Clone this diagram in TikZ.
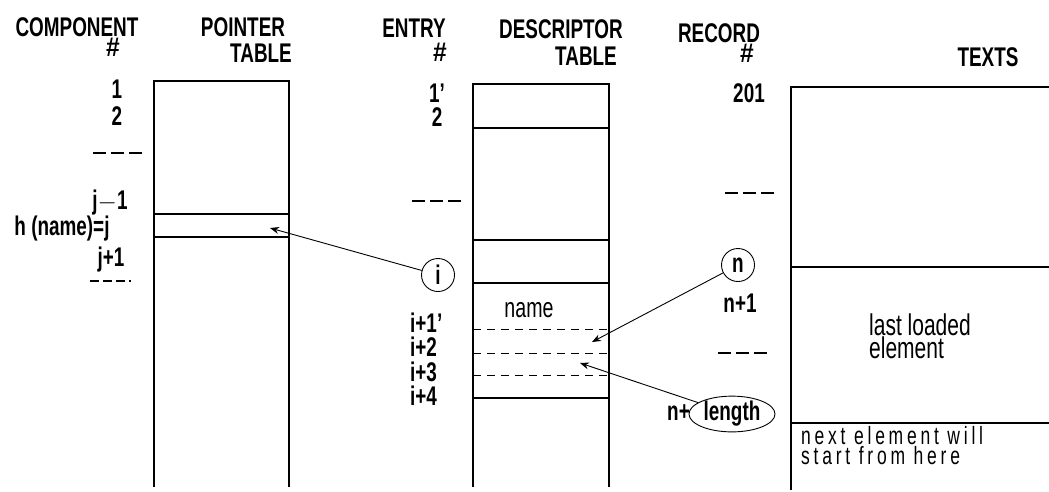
\documentclass[tikz,border=0pt]{standalone}
\usepackage{fontspec}
\setmainfont{Liberation Sans}[FakeStretch=0.7]
\newfontfamily\spacedfont{Liberation Sans}[FakeStretch=0.7,LetterSpace=15]
\usetikzlibrary{arrows.meta,shapes.geometric}
\tikzset{
  hdr/.style={font=\bfseries\fontsize{27}{27}\selectfont, inner sep=0pt},
  hsh/.style={font=\bfseries\fontsize{27}{27}\selectfont, inner sep=0pt, xscale=1.3},
  lbl/.style={font=\bfseries\fontsize{27}{27}\selectfont, inner sep=0pt},
  txt/.style={font=\fontsize{30}{22}\selectfont, inner sep=0pt, align=left},
  tbl/.style={line width=1.4pt},
  dsh/.style={line width=0.9pt, dash pattern=on 8pt off 6pt},
  dots/.style={line width=1.6pt, dash pattern=on 13pt off 5pt},
  ptr/.style={line width=0.9pt, -{Stealth[length=9pt,width=7pt]}},
  circ/.style={circle, draw, line width=0.9pt, inner sep=0pt, minimum size=33pt},
  ell/.style={ellipse, draw, line width=0.9pt, inner sep=0pt, minimum width=86pt, minimum height=35pt}
}
\begin{document}
\begin{tikzpicture}[x=1pt,y=-1pt]
\useasboundingbox (0,0) rectangle (1049,491);

% headers
\node[hdr] (hcomp) at (77,27) {COMPONENT};
\node[hsh] (hcompn) at (113,47) {\#};
\node[hdr] (hptr) at (243,27) {POINTER};
\node[hdr] (hptrt) at (261,53) {TABLE};
\node[hdr] (hent) at (414,28) {ENTRY};
\node[hsh] (hentn) at (440,52) {\#};
\node[hdr] (hdesc) at (561,29) {DESCRIPTOR};
\node[hdr] (hdesct) at (586,56) {TABLE};
\node[hdr] (hrec) at (719,33) {RECORD};
\node[hsh] (hrecn) at (747,53) {\#};
\node[hdr] (htxt) at (988,57) {TEXTS};

% pointer table
\draw[tbl] (154,487) -- (154,81) -- (289,81) -- (289,487);
\draw[tbl] (154,214) -- (289,214);
\draw[tbl] (154,237) -- (289,237);

% descriptor table
\draw[tbl] (473,487) -- (473,84) -- (609,84) -- (609,487);
\foreach \yy in {128,240,283,398} \draw[tbl] (473,\yy) -- (609,\yy);
\foreach \yy in {329,353,375} \draw[dsh] (473,\yy) -- (609,\yy);

% texts area
\draw[tbl] (791,490) -- (791,87) -- (1049,87);
\draw[tbl] (791,267) -- (1049,267);
\draw[tbl] (791,423) -- (1049,423);

% component labels
\node[lbl] (c1) at (117,89) {1};
\node[lbl] (c2) at (117,116) {2};
\draw[dots] (93,153) -- (143,153);
\node[lbl] (cjm) at (110,203) {j$-$1};
\node[lbl] (chj) at (62,229) {h (name)=j};
\node[lbl] (cjp) at (111,260) {j+1};
\draw[dots, line width=1.2pt, dash pattern=on 9pt off 4pt] (90,281) -- (131,281);

% entry labels
\node[lbl] (e1) at (437,93) {1'};
\node[lbl] (e2) at (437,117) {2};
\draw[dots] (412,201) -- (462,201);
\node[circ, lbl] (ei) at (438,275) {i};
\node[lbl, anchor=west] (ei1) at (410,323) {i+1'};
\node[lbl, anchor=west] (ei2) at (410,347) {i+2};
\node[lbl, anchor=west] (ei3) at (410,372) {i+3};
\node[lbl, anchor=west] (ei4) at (410,396) {i+4};

% descriptor text
\node[txt, font=\fontsize{28}{22}\selectfont] (dname) at (529,310) {name};

% record labels
\node[lbl] (r201) at (749,93) {201};
\draw[dots] (725,193) -- (778,193);
\node[circ, lbl] (rn) at (738,265) {n};
\node[lbl] (rn1) at (740,303) {n+1};
\draw[dots] (718,353) -- (767,353);
\node[ell, lbl] (rlen) at (732,414) {length};
\node[lbl, anchor=east] (rnp) at (690,413) {n+};

% texts
\node[txt, anchor=north west] (tlast) at (869,314) {last loaded\\element};
\node[txt, anchor=north west, font=\spacedfont\fontsize{25}{20}\selectfont] (tnext) at (801,426) {next element will\\start from here};

% arrow targets
\coordinate (pj) at (270,228);
\coordinate (d2) at (592,342);
\coordinate (d3) at (580,363);

\draw[ptr] (ei) -- (pj);
\draw[ptr] (rn) -- (d2);
\draw[ptr] (rlen) -- (d3);
\end{tikzpicture}
\end{document}
